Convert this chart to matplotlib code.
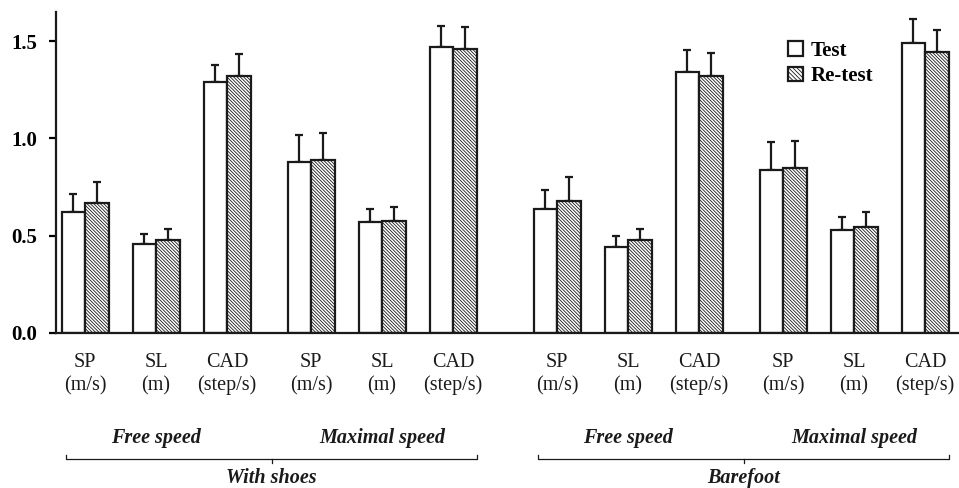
import matplotlib as mpl
mpl.use('Agg')
import matplotlib.pyplot as plt
import matplotlib.transforms as mtransforms
from matplotlib.patches import Patch
import numpy as np

plt.rcParams['font.family'] = ['Liberation Serif', 'DejaVu Serif']
plt.rcParams['hatch.linewidth'] = 0.6
plt.rcParams['hatch.color'] = '#222222'

# measures, in the order they are drawn
measures = ['SP', 'SL', 'CAD']
units = ['(m/s)', '(m)', '(step/s)']
speeds = ['Free speed', 'Maximal speed']
conditions = ['With shoes', 'Barefoot']

# mean values (with shoes free, with shoes max, barefoot free, barefoot max)
test_mean = [0.62, 0.46, 1.29, 0.88, 0.57, 1.47,
             0.635, 0.44, 1.34, 0.84, 0.53, 1.49]
test_sd = [0.095, 0.05, 0.09, 0.14, 0.068, 0.11,
           0.10, 0.06, 0.117, 0.144, 0.065, 0.125]
retest_mean = [0.67, 0.476, 1.32, 0.887, 0.574, 1.459,
               0.676, 0.476, 1.32, 0.846, 0.546, 1.442]
retest_sd = [0.105, 0.057, 0.115, 0.14, 0.072, 0.116,
             0.125, 0.06, 0.118, 0.139, 0.074, 0.116]

HATCH = '\\' * 10

fig = plt.figure(figsize=(9.59, 4.88), dpi=100)
ax = fig.add_axes([56 / 959, 1 - 333 / 488, 1 - 56 / 959, 321 / 488])

# x positions in pixel-like units: step inside a speed block, between speed
# blocks and between conditions
centers = []
x = 85
for c in range(len(conditions)):
    for s in range(len(speeds)):
        for m in range(len(measures)):
            centers.append(x)
            x += 71
        x += 84 - 71
    x += 104 - 84
centers = np.array(centers, dtype=float)

w = 23.5
ekw = dict(fmt='none', ecolor='#1a1a1a', elinewidth=1.6, capsize=2.6, capthick=1.6)
zero = np.zeros(len(centers))

ax.bar(centers - w / 2, test_mean, width=w, facecolor='white',
       edgecolor='#1a1a1a', linewidth=1.6, zorder=2)
ax.bar(centers + w / 2, retest_mean, width=w, facecolor='white',
       edgecolor='#1a1a1a', linewidth=1.6, hatch=HATCH, zorder=2)
ax.errorbar(centers - w / 2, test_mean, yerr=[zero, test_sd], zorder=1, **ekw)
ax.errorbar(centers + w / 2, retest_mean, yerr=[zero, retest_sd], zorder=1, **ekw)

ax.set_xlim(56, 959)
ax.set_ylim(0, 1.65)
ax.set_yticks([0.0, 0.5, 1.0, 1.5])
ax.set_yticklabels(['0.0', '0.5', '1.0', '1.5'], fontsize=15, fontweight='bold')
ax.set_xticks([])
ax.tick_params(axis='y', direction='out', length=5, width=1.6, pad=8.5)
for side in ['top', 'right']:
    ax.spines[side].set_visible(False)
for side in ['left', 'bottom']:
    ax.spines[side].set_linewidth(1.6)
    ax.spines[side].set_color('#1a1a1a')

tr = mtransforms.blended_transform_factory(ax.transData, fig.transFigure)
def fy(px):
    return 1 - px / 488

n = len(measures)
for i, cx in enumerate(centers):
    ax.text(cx, fy(367), measures[i % n], transform=tr, ha='center',
            va='baseline', fontsize=14.5, color='#1a1a1a')
    ax.text(cx, fy(390), units[i % n], transform=tr, ha='center',
            va='baseline', fontsize=14.5, color='#1a1a1a')

for k in range(len(conditions) * len(speeds)):
    mid = centers[k * n + 1]
    ax.text(mid, fy(443), speeds[k % len(speeds)], transform=tr, ha='center',
            va='baseline', fontsize=14.5, fontweight='bold', style='italic',
            color='#1a1a1a')

per_cond = n * len(speeds)
for c, name in enumerate(conditions):
    left = centers[c * per_cond] - 19
    right = centers[(c + 1) * per_cond - 1] + 24
    mid = (left + right) / 2
    ax.plot([left, left, right, right], [fy(455), fy(459), fy(459), fy(455)],
            transform=tr, color='#1a1a1a', lw=0.9, clip_on=False)
    ax.plot([mid, mid], [fy(459), fy(463)], transform=tr, color='#1a1a1a',
            lw=0.9, clip_on=False)
    ax.text(mid, fy(483), name, transform=tr, ha='center', va='baseline',
            fontsize=14.5, fontweight='bold', style='italic', color='#1a1a1a')

handles = [Patch(facecolor='white', edgecolor='#1a1a1a', linewidth=1.6),
           Patch(facecolor='white', edgecolor='#1a1a1a', linewidth=1.6,
                 hatch='\\' * 8)]
fig.legend(handles, ['Test', 'Re-test'], loc='upper left',
           bbox_to_anchor=(788 / 959, 1 - 41 / 488), frameon=False,
           prop={'size': 15, 'weight': 'bold'}, handlelength=0.7,
           handleheight=0.7, handletextpad=0.4, labelspacing=0.25,
           borderpad=0, borderaxespad=0)

plt.savefig('out.png', dpi=100)
